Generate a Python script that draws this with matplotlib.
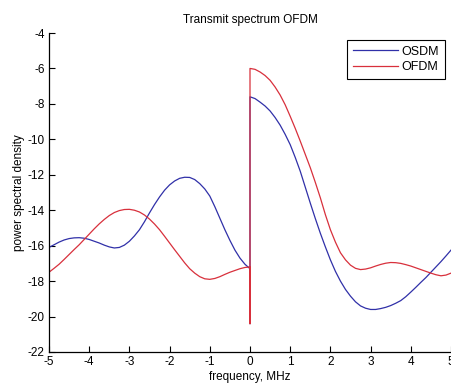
import matplotlib
matplotlib.use("Agg")
import matplotlib.pyplot as plt

plt.rcParams['font.family'] = ['Liberation Sans', 'DejaVu Sans']
plt.rcParams['axes.unicode_minus'] = False

# frequency grid (MHz) for each half of the spectrum, read every 0.125 MHz
freq_left = [i * 0.125 for i in range(-40, 1)]
freq_right = [i * 0.125 for i in range(0, 41)]

osdm_left = [-16.1, -15.95, -15.8, -15.68, -15.6, -15.56, -15.55, -15.58, -15.65, -15.75,
             -15.85, -15.97, -16.07, -16.13, -16.1, -15.97, -15.75, -15.45, -15.1, -14.65,
             -14.15, -13.68, -13.25, -12.87, -12.57, -12.35, -12.2, -12.14, -12.15, -12.27,
             -12.5, -12.8, -13.2, -13.8, -14.45, -15.1, -15.7, -16.25, -16.7, -17.05, -17.3]
osdm_right = [-7.6, -7.7, -7.9, -8.12, -8.4, -8.77, -9.2, -9.72, -10.3, -11.02,
              -11.8, -12.7, -13.6, -14.47, -15.3, -16.07, -16.8, -17.45, -18.0, -18.47,
              -18.85, -19.17, -19.4, -19.53, -19.6, -19.6, -19.55, -19.48, -19.38, -19.25,
              -19.1, -18.88, -18.62, -18.35, -18.07, -17.8, -17.5, -17.2, -16.9, -16.58, -16.25]

ofdm_left = [-17.5, -17.28, -17.05, -16.78, -16.5, -16.22, -15.95, -15.65, -15.35, -15.05,
             -14.77, -14.52, -14.3, -14.13, -14.02, -13.96, -13.95, -14.0, -14.1, -14.27,
             -14.5, -14.78, -15.1, -15.47, -15.85, -16.23, -16.6, -16.97, -17.3, -17.55,
             -17.75, -17.87, -17.9, -17.85, -17.75, -17.62, -17.5, -17.4, -17.3, -17.23, -17.2]
ofdm_right = [-6.0, -6.05, -6.2, -6.4, -6.67, -7.05, -7.5, -8.05, -8.7, -9.38,
              -10.1, -10.85, -11.6, -12.43, -13.3, -14.25, -15.1, -15.8, -16.4, -16.8,
              -17.1, -17.28, -17.35, -17.32, -17.25, -17.15, -17.06, -16.99, -16.95, -16.96,
              -17.0, -17.07, -17.15, -17.25, -17.35, -17.45, -17.55, -17.64, -17.7, -17.66, -17.55]

dip_at_zero = -20.4  # both curves drop here at DC

fig = plt.figure(figsize=(4.52, 3.83), dpi=100)
ax = fig.add_axes([49/452, 31/383, 402/452, 319/383])

# join halves with the dip at f=0
f_all = freq_left + [0] + freq_right
osdm = osdm_left + [dip_at_zero] + osdm_right
ofdm = ofdm_left + [dip_at_zero] + ofdm_right

ax.plot(f_all, osdm, color='#3030a8', lw=0.9, label='OSDM')
ax.plot(f_all, ofdm, color='#d8303c', lw=0.9, label='OFDM')

ax.set_xlim(-5, 5)
ax.set_ylim(-22, -4)
ax.set_xticks(range(-5, 6))
ax.set_yticks(range(-22, -3, 2))
ax.tick_params(direction='in', length=4, width=0.8, labelsize=8.5, pad=3)
for s in ['top', 'right']:
    ax.spines[s].set_visible(False)
for s in ['left', 'bottom']:
    ax.spines[s].set_linewidth(0.9)

ax.set_title('Transmit spectrum OFDM', fontsize=8.5, pad=7)
ax.set_xlabel('frequency, MHz', fontsize=8.5, labelpad=2)
ax.set_ylabel('power spectral density', fontsize=8.5, labelpad=2)

leg = ax.legend(loc='upper right', bbox_to_anchor=(445/452, 1 - 40/383), bbox_transform=fig.transFigure,
                fontsize=9, fancybox=False, edgecolor='black', framealpha=1,
                handlelength=3.6, handletextpad=0.3, borderaxespad=0, borderpad=0.45,
                labelspacing=0.3)
leg.get_frame().set_linewidth(0.8)

fig.savefig('out.png', dpi=100)
